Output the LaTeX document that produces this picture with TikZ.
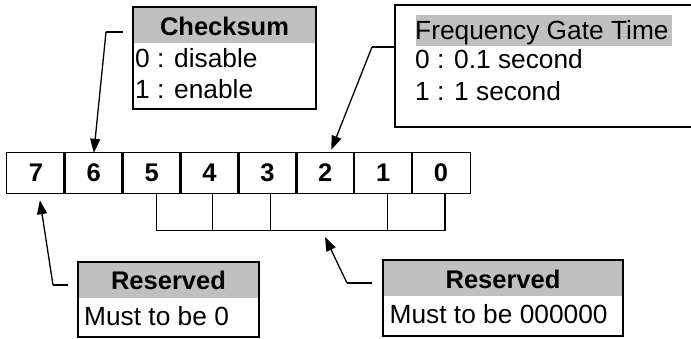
\documentclass[tikz,border=0pt]{standalone}
\usepackage{fontspec}
\setmainfont{Liberation Sans}
\usetikzlibrary{arrows.meta,calc}
\definecolor{hdr}{RGB}{192,192,192}
\begin{document}
\begin{tikzpicture}[x=1pt,y=-1pt,
  txt/.style={inner sep=0pt, font=\fontsize{26.3}{30}\selectfont},
  btxt/.style={inner sep=0pt, font=\fontsize{25.5}{30}\selectfont\bfseries},
  box/.style={draw, line width=2.2pt, inner sep=0pt},
  conn/.style={line width=1.3pt},
  arr/.style={conn, -{Triangle[length=14pt,width=10pt]}},
  cell/.style={minimum width=57.875pt, minimum height=40pt, inner sep=0pt, font=\fontsize{25.5}{30}\selectfont\bfseries}]
\useasboundingbox (0,0) rectangle (691,338);

% bit cells
\foreach \k in {7,...,0}{
  \node[cell] (c\k) at ({7+(7-\k+0.5)*57.875},173) {\k};
}
\draw[line width=1.3pt] (c7.north west) rectangle (c0.south east);
\foreach \k in {6,...,0}{
  \draw[line width=2.8pt] (c\k.north west) -- (c\k.south west);
}

% bracket under bits 5..0
\coordinate (b5) at ($(c5.south)+(5,0)$);
\coordinate (b4) at ($(c4.south)+(3,0)$);
\coordinate (b3) at ($(c3.south)+(3,0)$);
\coordinate (b1) at ($(c1.south)+(4,0)$);
\coordinate (b0) at ($(c0.south)+(4,0)$);
\coordinate (bl) at ($(b5)+(0,37)$);
\coordinate (br) at ($(b0)+(0,37)$);
\draw[conn] (b5) -- (bl) -- (br) -- (b0);
\draw[conn] (b4) -- (b4 |- bl);
\draw[conn] (b3) -- (b3 |- bl);
\draw[conn] (b1) -- (b1 |- bl);

% Checksum box
\fill[hdr] (133,7) rectangle (316,43);
\node[box, minimum width=183pt, minimum height=102pt] (chk) at (224.5,58) {};
\node[btxt, anchor=base] (chkT) at (224.5,35) {Checksum};
\node[txt, anchor=base west] (chk0) at (135,67) {0 : disable};
\node[txt, anchor=base west] (chk1) at (135,98) {1 : enable};
\coordinate (chkS) at (123,32);
\coordinate (chkK) at (106,32);
\coordinate (chkE) at ($(c6.north)+(0,0)$);
\draw[conn] (chkS) -- (chkK);
\draw[arr] (chkK) -- (chkE);

% Frequency Gate Time box
\fill[hdr] (416,15) rectangle (672,46);
\coordinate (frqNE) at (691,5);
\coordinate (frqNW) at (395,5);
\coordinate (frqSW) at (395,127);
\coordinate (frqSE) at (691,127);
\draw[line width=2pt] (frqNE) -- (frqNW) -- (frqSW) -- (frqSE);
\node[txt, anchor=base west] (frqT) at (415,39) {Frequency Gate Time};
\node[txt, anchor=base west] (frq0) at (415,68) {0 : 0.1 second};
\node[txt, anchor=base west] (frq1) at (415,100) {1 : 1 second};
\coordinate (frqS) at (395,47);
\coordinate (frqK) at (372,47);
\coordinate (frqE) at ($(c2.north)+(6,-3)$);
\draw[conn] (frqS) -- (frqK);
\draw[arr] (frqK) -- (frqE);

% Reserved (bit 7)
\fill[hdr] (78,262) rectangle (259,298);
\node[box, minimum width=181pt, minimum height=75pt] (rs1) at (168.5,299.5) {};
\node[btxt, anchor=base] (rs1T) at (168.5,289) {Reserved};
\node[txt, anchor=base west] (rs1L) at (84,325) {Must to be 0};
\coordinate (rs1S) at (68,285);
\coordinate (rs1K) at (53,285);
\coordinate (rs1E) at ($(c7.south)+(4,7)$);
\draw[conn] (rs1S) -- (rs1K);
\draw[arr] (rs1K) -- (rs1E);

% Reserved (bits 5..0)
\fill[hdr] (383,260) rectangle (623,296);
\node[box, minimum width=240pt, minimum height=76pt] (rs2) at (503,298) {};
\node[btxt, anchor=base] (rs2T) at (503,288) {Reserved};
\node[txt, anchor=base west] (rs2L) at (389.5,323) {Must to be 000000};
\coordinate (rs2S) at (372,283);
\coordinate (rs2K) at (347,283);
\coordinate (rs2E) at (325,237);
\draw[conn] (rs2S) -- (rs2K);
\draw[arr] (rs2K) -- (rs2E);
\end{tikzpicture}
\end{document}
